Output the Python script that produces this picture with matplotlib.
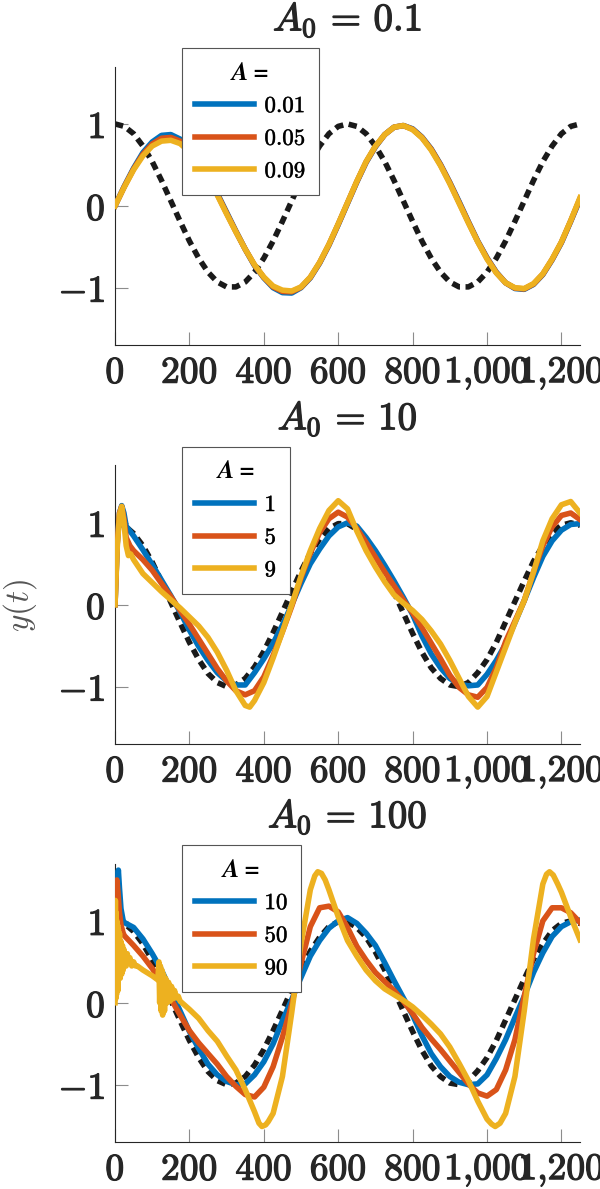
import matplotlib.pyplot as plt
import matplotlib.patheffects as pe

plt.rcParams['mathtext.fontset'] = 'cm'

# time axis shared by most series
t_grid = list(range(0, 1275, 25))
t_from50 = list(range(50, 1275, 25))

# ---- panel 1, A0 = 0.1 ----
ref1 = [1.00, 0.97, 0.88, 0.73, 0.54, 0.31, 0.06, -0.19, -0.43, -0.64, -0.81, -0.93, -0.99,
        -0.99, -0.93, -0.81, -0.64, -0.43, -0.19, 0.06, 0.31, 0.54, 0.73, 0.88, 0.97, 1.00,
        0.97, 0.88, 0.73, 0.54, 0.31, 0.06, -0.19, -0.43, -0.64, -0.81, -0.93, -0.99,
        -0.99, -0.93, -0.81, -0.64, -0.43, -0.19, 0.06, 0.31, 0.54, 0.73, 0.88, 0.97, 1.00]
blue1 = [0.00, 0.24, 0.46, 0.65, 0.78, 0.86, 0.87, 0.815, 0.71, 0.56,
         0.37, 0.15, -0.08, -0.31, -0.53, -0.73, -0.88, -1.00, -1.06, -1.065,
         -1.00, -0.88, -0.70, -0.48, -0.23, 0.03, 0.29, 0.53, 0.72, 0.87,
         0.96, 0.98, 0.94, 0.84, 0.695, 0.505, 0.285, 0.05, -0.195, -0.43,
         -0.635, -0.81, -0.94, -1.01, -1.02, -0.96, -0.84, -0.66, -0.45, -0.19, 0.08]
orange1 = [0.00, 0.235, 0.45, 0.63, 0.755, 0.825, 0.835, 0.79, 0.685, 0.54,
           0.355, 0.14, -0.09, -0.315, -0.53, -0.725, -0.875, -0.99, -1.045, -1.05,
           -0.995, -0.875, -0.695, -0.475, -0.225, 0.035, 0.295, 0.535, 0.725, 0.87,
           0.96, 0.98, 0.935, 0.835, 0.69, 0.50, 0.28, 0.04, -0.20, -0.435,
           -0.64, -0.815, -0.94, -1.005, -1.015, -0.955, -0.835, -0.655, -0.445, -0.185, 0.09]
yellow1 = [0.00, 0.23, 0.44, 0.61, 0.73, 0.79, 0.80, 0.76, 0.66, 0.52,
           0.34, 0.13, -0.10, -0.32, -0.53, -0.72, -0.87, -0.98, -1.03, -1.04,
           -0.99, -0.87, -0.69, -0.47, -0.22, 0.04, 0.30, 0.54, 0.73, 0.87,
           0.96, 0.98, 0.93, 0.83, 0.68, 0.49, 0.27, 0.03, -0.21, -0.44,
           -0.65, -0.82, -0.94, -1.00, -1.01, -0.95, -0.83, -0.65, -0.44, -0.18, 0.10]

# ---- reference for panels 2 and 3 ----
ref23 = [1.00, 0.97, 0.87, 0.72, 0.52, 0.28, 0.03, -0.22, -0.46, -0.67, -0.84, -0.95, -1.00,
         -0.98, -0.90, -0.76, -0.57, -0.34, -0.09, 0.16, 0.41, 0.63, 0.80, 0.93, 0.99, 0.99,
         0.92, 0.80, 0.62, 0.40, 0.15, -0.10, -0.35, -0.58, -0.77, -0.90, -0.98, -1.00,
         -0.95, -0.83, -0.67, -0.46, -0.21, 0.04, 0.29, 0.53, 0.72, 0.88, 0.97, 1.00, 0.97]

# ---- panel 2, A0 = 10 ----
blue2_t = [0, 6, 12, 18, 24, 30, 40] + t_from50
blue2 = [0.0, 0.75, 1.12, 1.21, 1.12, 0.96, 0.90,
         0.84, 0.67, 0.49, 0.30, 0.11, -0.09, -0.31, -0.51,
         -0.68, -0.83, -0.93, -0.98, -0.98, -0.83, -0.66, -0.47,
         -0.25, 0.00, 0.26, 0.50, 0.68, 0.84, 0.95, 1.00,
         0.96, 0.82, 0.66, 0.48, 0.29, 0.09, -0.12, -0.38,
         -0.60, -0.77, -0.90, -0.97, -0.99, -0.98, -0.85, -0.68,
         -0.48, -0.22, 0.05, 0.33, 0.59, 0.78, 0.91, 0.98, 0.99]
orange2_t = [0, 6, 12, 18, 24, 30, 40] + t_from50
orange2 = [0.0, 0.75, 1.12, 1.20, 1.05, 0.82, 0.72,
           0.66, 0.55, 0.42, 0.26, 0.10, -0.07, -0.24, -0.42,
           -0.60, -0.78, -0.93, -1.05, -1.10, -1.05, -0.88, -0.62,
           -0.33, -0.02, 0.33, 0.63, 0.88, 1.05, 1.13, 1.07,
           0.93, 0.76, 0.58, 0.40, 0.23, 0.06, -0.10, -0.28,
           -0.47, -0.66, -0.86, -1.01, -1.10, -1.13, -1.01, -0.77,
           -0.45, -0.20, 0.05, 0.40, 0.72, 0.95, 1.09, 1.12, 1.04]
yellow2_t = [0, 6, 12, 18, 24, 30, 36, 42,
             50, 75, 100, 125, 150, 175, 200, 225,
             250, 275, 300, 325, 350, 362, 375, 400, 425,
             450, 475, 500, 525, 550, 575, 600, 625,
             650, 675, 700, 725, 750, 775, 800, 825,
             850, 875, 900, 925, 950, 975, 1000, 1025,
             1050, 1075, 1100, 1125, 1150, 1175, 1200, 1225, 1250]
yellow2 = [0.0, 0.70, 1.10, 1.20, 1.00, 0.72, 0.60, 0.62,
           0.55, 0.38, 0.27, 0.16, 0.06, -0.04, -0.15, -0.26,
           -0.40, -0.58, -0.80, -1.05, -1.23, -1.25, -1.17, -0.95, -0.65,
           -0.33, 0.00, 0.35, 0.66, 0.93, 1.15, 1.27, 1.17,
           0.90, 0.66, 0.46, 0.28, 0.12, 0.02, -0.07, -0.18,
           -0.32, -0.48, -0.68, -0.90, -1.12, -1.25, -1.12, -0.82,
           -0.52, -0.22, 0.05, 0.40, 0.78, 1.05, 1.22, 1.26, 1.12]

# ---- panel 3, A0 = 100 ----
blue3_t = [0, 3, 6, 9, 12, 16, 22, 25] + t_from50
blue3 = [0.36, 1.00, 1.45, 1.62, 1.40, 1.15, 1.00, 0.98,
         0.92, 0.78, 0.60, 0.40, 0.15, -0.10, -0.35, -0.56,
         -0.75, -0.88, -0.96, -1.00, -0.99, -0.88, -0.72, -0.50,
         -0.22, 0.04, 0.31, 0.57, 0.76, 0.91, 1.00, 1.04,
         0.97, 0.85, 0.70, 0.49, 0.27, 0.06, -0.15, -0.40,
         -0.62, -0.78, -0.90, -0.97, -1.00, -0.99, -0.88, -0.68,
         -0.45, -0.18, 0.08, 0.37, 0.61, 0.81, 0.93, 0.99, 1.01]
orange3_t = [0, 2, 5, 8, 12, 16, 22, 25] + t_from50
orange3 = [0.40, 1.20, 1.50, 1.35, 1.10, 0.95, 0.85, 0.82,
           0.70, 0.57, 0.42, 0.25, 0.05, -0.15, -0.34, -0.49,
           -0.62, -0.75, -0.90, -1.02, -1.12, -1.15, -1.03, -0.78,
           -0.42, -0.02, 0.48, 0.93, 1.16, 1.18, 1.11, 0.92,
           0.69, 0.52, 0.37, 0.26, 0.15, 0.02, -0.13, -0.30,
           -0.44, -0.57, -0.71, -0.85, -0.99, -1.10, -1.14, -1.06,
           -0.82, -0.45, 0.08, 0.60, 1.00, 1.16, 1.16, 1.10, 0.98]
yellow3_t = [0, 1, 2, 3, 4, 5, 6, 7, 8, 9, 10,
             12, 14, 16, 18, 20, 22, 24, 26, 28, 30,
             33, 36, 40, 45, 50, 55, 60, 75, 100, 115,
             118, 120, 122, 124, 126, 128, 130,
             133, 136, 140, 144, 148, 152, 156, 160, 165, 170, 175,
             200, 225, 250, 275, 300, 325, 350, 375, 387, 395, 405, 412, 425,
             450, 475, 500, 525, 537, 545, 555, 565, 575,
             600, 625, 650, 675, 700, 725, 750, 775,
             800, 825, 850, 875, 900, 925, 950, 975,
             1000, 1012, 1022, 1035, 1050, 1075, 1100, 1125,
             1150, 1160, 1168, 1178, 1190, 1200, 1225, 1250]
yellow3 = [0.0, 1.25, 0.05, 1.10, 0.10, 1.00, 0.20, 0.95, 0.15, 0.90, 0.30,
           0.85, 0.30, 0.75, 0.35, 0.70, 0.40, 0.65, 0.45, 0.60, 0.45,
           0.60, 0.50, 0.55, 0.45, 0.50, 0.45, 0.45, 0.40, 0.33, 0.28,
           0.50, 0.00, 0.45, -0.10, 0.40, -0.15, 0.35,
           -0.10, 0.30, 0.00, 0.25, 0.02, 0.20, 0.05, 0.15, 0.06, 0.08, 0.02,
           -0.08, -0.19, -0.34, -0.47, -0.65, -0.82, -1.06, -1.33, -1.47, -1.51, -1.49, -1.45, -1.35,
           -0.90, -0.12, 0.72, 1.38, 1.55, 1.60, 1.58, 1.50, 1.38,
           1.05, 0.76, 0.57, 0.40, 0.27, 0.17, 0.10, 0.03,
           -0.05, -0.15, -0.26, -0.38, -0.54, -0.74, -0.95, -1.20,
           -1.42, -1.48, -1.51, -1.47, -1.35, -0.90, -0.10, 0.78,
           1.45, 1.57, 1.60, 1.56, 1.45, 1.35, 1.05, 0.77]

titles = [r'$A_0\,=\,0.1$', r'$A_0\,=\,10$', r'$A_0\,=\,100$']
legend_labels = [['0.01', '0.05', '0.09'], ['1', '5', '9'], ['10', '50', '90']]
x_ticks = [0, 200, 400, 600, 800, 1000, 1200]
x_ticklabels = ['0', '200', '400', '600', '800', '1{,}000', '1{,}200']
y_ticks = [-1, 0, 1]

colors = ['#0072BD', '#D95319', '#EDB120']

panels = [
    (t_grid, ref1, [(t_grid, blue1), (t_grid, orange1), (t_grid, yellow1)]),
    (t_grid, ref23, [(blue2_t, blue2), (orange2_t, orange2), (yellow2_t, yellow2)]),
    (t_grid, ref23, [(blue3_t, blue3), (orange3_t, orange3), (yellow3_t, yellow3)]),
]
bottoms = [0.7098, 0.3743, 0.0395]

# thicken the glyphs a bit, the original text is heavier than plain CM
heavy = [pe.withStroke(linewidth=0.9, foreground='#262626')]

fig = plt.figure(figsize=(6, 11.89), dpi=100)

for i, (rt, ry, series) in enumerate(panels):
    ax = fig.add_axes([0.1917, bottoms[i], 0.775, 0.2342])
    ax.plot(rt, ry, color='#1a1a1a', lw=4, linestyle=(0, (1.5, 1.0)), zorder=2)
    handles = []
    for (st, sy), c in zip(series, colors):
        ln, = ax.plot(st, sy, color=c, lw=4, solid_joinstyle='round', zorder=3)
        handles.append(ln)

    ax.set_xlim(0, 1250)
    ax.set_ylim(-1.7, 1.7)
    ax.set_xticks(x_ticks)
    ax.set_xticklabels(['$' + s + '$' for s in x_ticklabels])
    ax.set_yticks(y_ticks)
    ax.set_yticklabels(['$-1$', '$0$', '$1$'])
    ax.tick_params(direction='in', length=9.5, width=0.8, color='#8c8c8c',
                   labelsize=27, labelcolor='#262626', pad=7)
    for lab in ax.get_xticklabels() + ax.get_yticklabels():
        lab.set_path_effects(heavy)
    for side in ['top', 'right']:
        ax.spines[side].set_visible(False)
    for side in ['left', 'bottom']:
        ax.spines[side].set_color('#262626')
        ax.spines[side].set_linewidth(0.8)

    ttl = ax.set_title(titles[i], fontsize=28, pad=26, color='#262626')
    ttl.set_path_effects(heavy)

    leg = ax.legend(handles, [r'$\mathbf{' + s + '}$' for s in legend_labels[i]],
                    title='A =', loc='upper left', bbox_to_anchor=(0.144, 1.065),
                    borderaxespad=0, fontsize=16.5, handlelength=2.6, handletextpad=0.45,
                    labelspacing=0.42, borderpad=0.55, fancybox=False, framealpha=1,
                    edgecolor='#555555',
                    title_fontproperties={'family': 'STIXGeneral', 'weight': 'bold',
                                          'style': 'italic', 'size': 18})
    leg.get_frame().set_linewidth(0.8)
    leg.set_zorder(5)
    for txt in leg.get_texts():
        txt.set_path_effects([pe.withStroke(linewidth=0.4, foreground='#262626')])

fig.text(0.033, 0.491, r'$y(t)$', rotation=90, fontsize=24, color='#555555',
         ha='center', va='center')

fig.savefig('out.png', dpi=100)
